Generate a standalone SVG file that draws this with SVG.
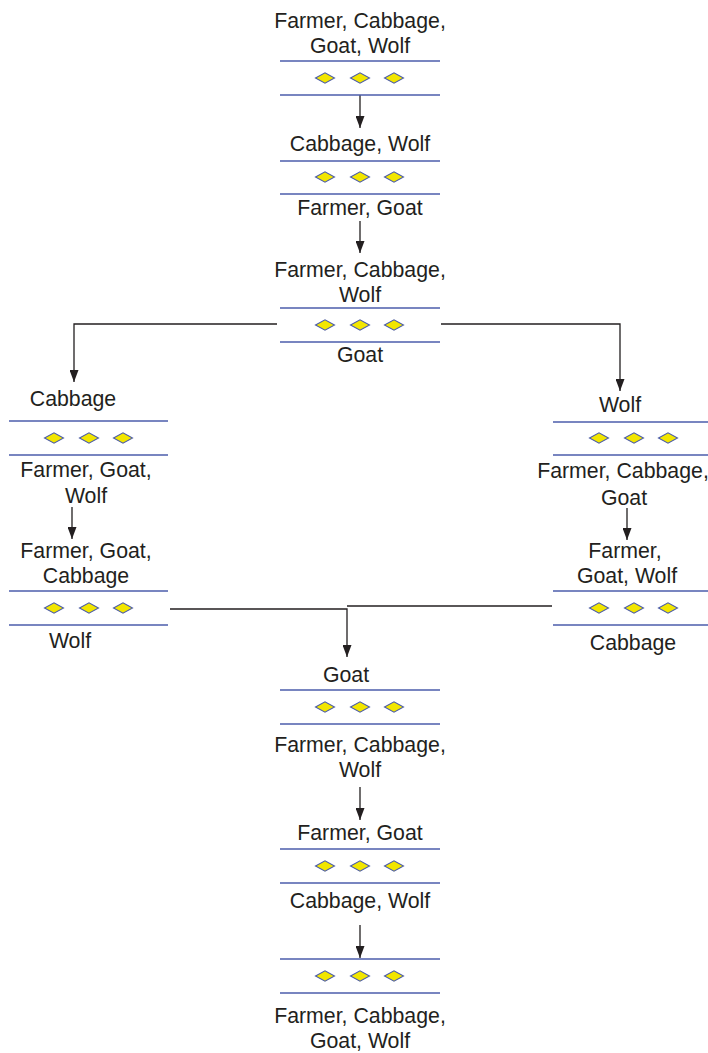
<svg xmlns="http://www.w3.org/2000/svg" xmlns:xlink="http://www.w3.org/1999/xlink" width="708" height="1053" viewBox="0 0 708 1053">
<style>
  text { font-family: "Liberation Sans", Arial, sans-serif; font-size: 21.3px; fill: #231f20; text-anchor: middle; }
  .bank { stroke: #4b5cab; stroke-width: 1.4; fill: none; }
  .conn { stroke: #231f20; stroke-width: 1.3; fill: none; }
</style>
<defs>
  <polygon id="dia" points="-9.5,0 0,-5.2 9.5,0 0,5.2" fill="#f2e600" stroke="#4b5cab" stroke-width="1.1"/>
  <marker id="arr" markerUnits="userSpaceOnUse" markerWidth="12" markerHeight="9" refX="12" refY="4.5" orient="auto">
    <path d="M0,0 L12,4.5 L0,9 z" fill="#231f20"/>
  </marker>
</defs>
<rect width="708" height="1053" fill="#ffffff"/>

<g id="connectors">
  <line class="conn" x1="360" y1="95" x2="360" y2="128" marker-end="url(#arr)"/>
  <line class="conn" x1="360" y1="221" x2="360" y2="253" marker-end="url(#arr)"/>
  <path class="conn" d="M277,324 H74 V382" marker-end="url(#arr)"/>
  <path class="conn" d="M441,324 H620 V391" marker-end="url(#arr)"/>
  <line class="conn" x1="72" y1="507" x2="72" y2="539" marker-end="url(#arr)"/>
  <line class="conn" x1="627" y1="508" x2="627" y2="540" marker-end="url(#arr)"/>
  <path class="conn" d="M170,609 H347 V657" marker-end="url(#arr)"/>
  <path class="conn" d="M552,606 H347"/>
  <line class="conn" x1="360" y1="787" x2="360" y2="820" marker-end="url(#arr)"/>
  <line class="conn" x1="360" y1="925" x2="360" y2="958" marker-end="url(#arr)"/>
</g>

<g id="node-start">
  <text x="360" y="28">Farmer, Cabbage,</text>
  <text x="360" y="53">Goat, Wolf</text>
  <line class="bank" x1="280" y1="61" x2="440" y2="61"/>
  <use xlink:href="#dia" x="325" y="78"/><use xlink:href="#dia" x="360" y="78"/><use xlink:href="#dia" x="394" y="78"/>
  <line class="bank" x1="280" y1="95" x2="440" y2="95"/>
</g>

<g id="node-2">
  <text x="360" y="151">Cabbage, Wolf</text>
  <line class="bank" x1="280" y1="161" x2="440" y2="161"/>
  <use xlink:href="#dia" x="325" y="177"/><use xlink:href="#dia" x="360" y="177"/><use xlink:href="#dia" x="394" y="177"/>
  <line class="bank" x1="280" y1="194" x2="440" y2="194"/>
  <text x="360" y="215">Farmer, Goat</text>
</g>

<g id="node-3">
  <text x="360" y="277">Farmer, Cabbage,</text>
  <text x="360" y="302">Wolf</text>
  <line class="bank" x1="280" y1="308" x2="440" y2="308"/>
  <use xlink:href="#dia" x="325" y="325"/><use xlink:href="#dia" x="360" y="325"/><use xlink:href="#dia" x="394" y="325"/>
  <line class="bank" x1="280" y1="342" x2="440" y2="342"/>
  <text x="360" y="362">Goat</text>
</g>

<g id="node-left-1">
  <text x="73" y="406">Cabbage</text>
  <line class="bank" x1="9" y1="421" x2="168" y2="421"/>
  <use xlink:href="#dia" x="54" y="438"/><use xlink:href="#dia" x="89" y="438"/><use xlink:href="#dia" x="123" y="438"/>
  <line class="bank" x1="9" y1="455" x2="168" y2="455"/>
  <text x="86" y="477">Farmer, Goat,</text>
  <text x="86" y="503">Wolf</text>
</g>

<g id="node-right-1">
  <text x="620" y="412">Wolf</text>
  <line class="bank" x1="553" y1="422" x2="713" y2="422"/>
  <use xlink:href="#dia" x="599" y="438"/><use xlink:href="#dia" x="634" y="438"/><use xlink:href="#dia" x="668" y="438"/>
  <line class="bank" x1="553" y1="455" x2="713" y2="455"/>
  <text x="623" y="478">Farmer, Cabbage,</text>
  <text x="624" y="505">Goat</text>
</g>

<g id="node-left-2">
  <text x="86" y="558">Farmer, Goat,</text>
  <text x="86" y="583">Cabbage</text>
  <line class="bank" x1="9" y1="591" x2="168" y2="591"/>
  <use xlink:href="#dia" x="54" y="608"/><use xlink:href="#dia" x="89" y="608"/><use xlink:href="#dia" x="123" y="608"/>
  <line class="bank" x1="9" y1="625" x2="168" y2="625"/>
  <text x="70" y="648">Wolf</text>
</g>

<g id="node-right-2">
  <text x="625" y="558">Farmer,</text>
  <text x="627" y="583">Goat, Wolf</text>
  <line class="bank" x1="553" y1="591" x2="713" y2="591"/>
  <use xlink:href="#dia" x="599" y="608"/><use xlink:href="#dia" x="634" y="608"/><use xlink:href="#dia" x="668" y="608"/>
  <line class="bank" x1="553" y1="625" x2="713" y2="625"/>
  <text x="633" y="650">Cabbage</text>
</g>

<g id="node-5">
  <text x="346" y="682">Goat</text>
  <line class="bank" x1="280" y1="690" x2="440" y2="690"/>
  <use xlink:href="#dia" x="325" y="707"/><use xlink:href="#dia" x="360" y="707"/><use xlink:href="#dia" x="394" y="707"/>
  <line class="bank" x1="280" y1="724" x2="440" y2="724"/>
  <text x="360" y="752">Farmer, Cabbage,</text>
  <text x="360" y="777">Wolf</text>
</g>

<g id="node-6">
  <text x="360" y="840">Farmer, Goat</text>
  <line class="bank" x1="280" y1="849" x2="440" y2="849"/>
  <use xlink:href="#dia" x="325" y="866"/><use xlink:href="#dia" x="360" y="866"/><use xlink:href="#dia" x="394" y="866"/>
  <line class="bank" x1="280" y1="883" x2="440" y2="883"/>
  <text x="360" y="908">Cabbage, Wolf</text>
</g>

<g id="node-end">
  <line class="bank" x1="280" y1="959" x2="440" y2="959"/>
  <use xlink:href="#dia" x="325" y="976"/><use xlink:href="#dia" x="360" y="976"/><use xlink:href="#dia" x="394" y="976"/>
  <line class="bank" x1="280" y1="993" x2="440" y2="993"/>
  <text x="360" y="1023">Farmer, Cabbage,</text>
  <text x="360" y="1048">Goat, Wolf</text>
</g>
</svg>
